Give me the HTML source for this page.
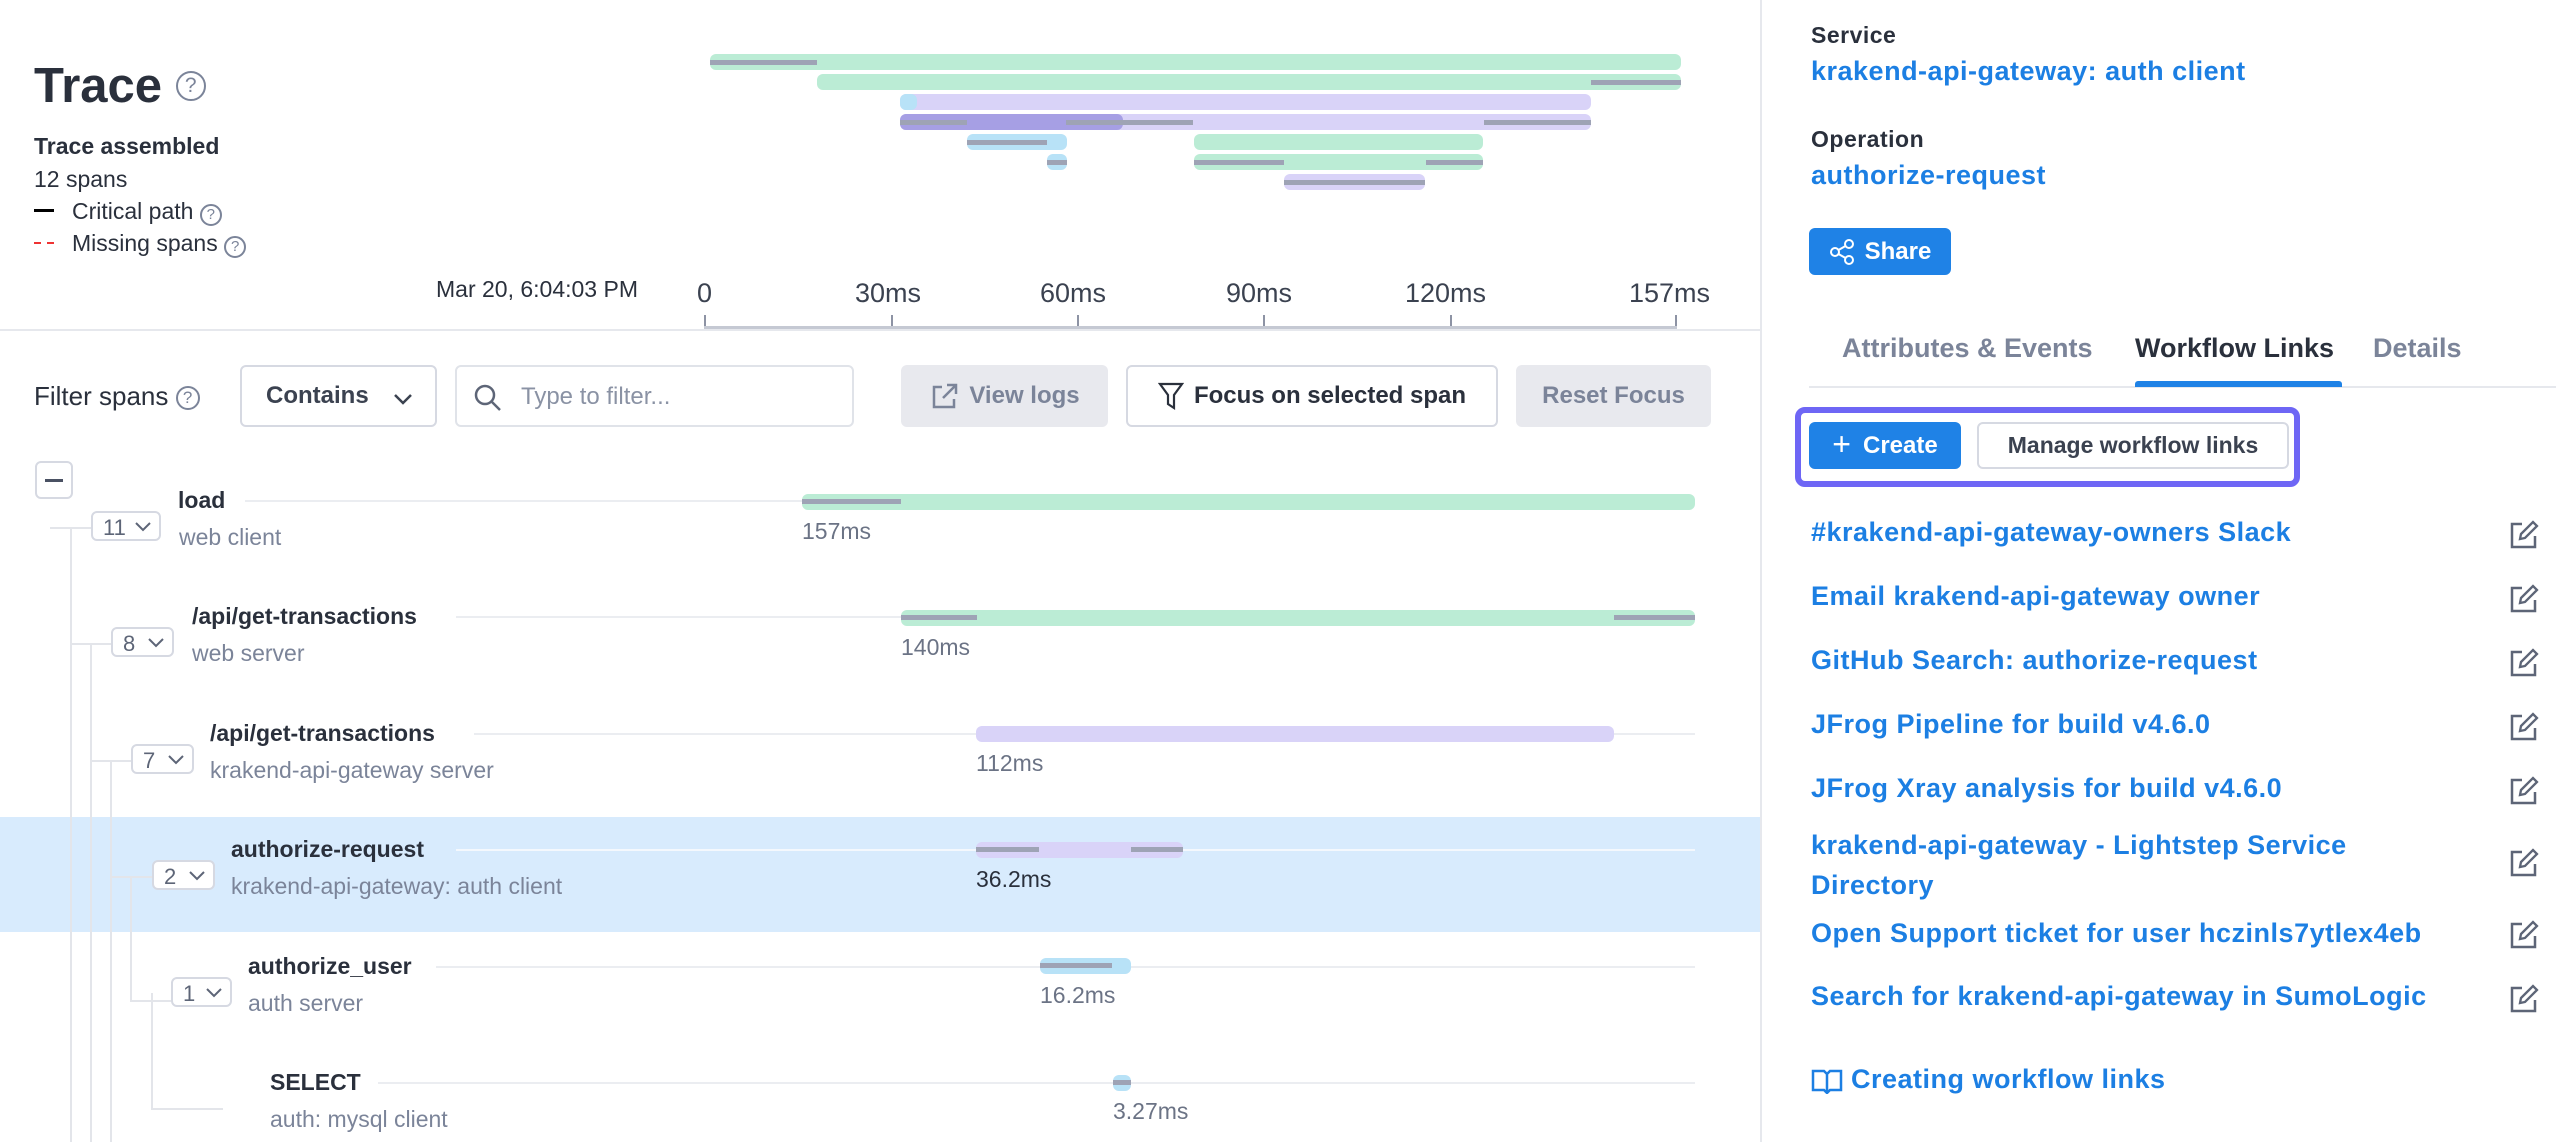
<!DOCTYPE html>
<html><head><meta charset="utf-8"><style>
*{margin:0;padding:0;box-sizing:border-box}
body{width:2556px;height:1142px;background:#fff;position:relative;overflow:hidden;font-family:"Liberation Sans",sans-serif;color:#2a303c}
.a{position:absolute;white-space:nowrap}
.bar{position:absolute;border-radius:6px}
.mk{position:absolute;height:5px;background:#9ea3b5}
.g{background:#bbecd5}.p{background:#d9d3f8}.b{background:#b8e2f7}.dp{background:#a69fe4}
.nm{font-size:23px;font-weight:bold;color:#2a303c}
.sv{font-size:23px;color:#7b8499}
.dur{font-size:23px;color:#6b7385}
.badge{position:absolute;height:30px;border:2px solid #d6d9e2;border-radius:6px;background:#fff;font-size:22px;color:#5d6577;padding:2px 0 0 10px}
.badge svg{position:absolute;right:8px;top:9px}
.trk{position:absolute;height:2px;background:#ebedf1}
.vl{position:absolute;width:2px;background:#e3e5ea}
.hl{position:absolute;height:2px;background:#e3e5ea}
.btn{position:absolute;border-radius:6px;font-size:24px;font-weight:bold;display:flex;align-items:center;justify-content:center}
.lnk{position:absolute;left:1811px;font-size:27px;font-weight:bold;color:#1c7fe3;letter-spacing:0.5px;white-space:nowrap}
.ed{position:absolute;left:2509px}
.tick{position:absolute;top:315px;width:2px;height:13px;background:#8d93a4}
.ax{position:absolute;top:278px;font-size:27px;color:#3b4250}
.q{display:inline-block;border:2px solid #7b8499;border-radius:50%;text-align:center;color:#7b8499;font-weight:normal}
</style></head><body>

<div class="a" style="left:34px;top:58px;font-size:49px;font-weight:bold;color:#2a303c">Trace <span class="q" style="width:30px;height:30px;font-size:21px;line-height:26px;vertical-align:10px">?</span></div>
<div class="a" style="left:34px;top:133px;font-size:23px;font-weight:bold">Trace assembled</div>
<div class="a" style="left:34px;top:166px;font-size:23px">12 spans</div>
<div class="a" style="left:34px;top:198px;font-size:23px"><span style="display:inline-block;width:20px;height:3px;background:#000;vertical-align:7px;margin-right:18px"></span>Critical path <span class="q" style="width:22px;height:22px;font-size:15px;line-height:18px">?</span></div>
<div class="a" style="left:34px;top:230px;font-size:23px"><span style="display:inline-block;width:7px;height:2px;background:#e33;vertical-align:7px;margin-right:6px"></span><span style="display:inline-block;width:7px;height:2px;background:#e33;vertical-align:7px;margin-right:18px"></span>Missing spans <span class="q" style="width:22px;height:22px;font-size:15px;line-height:18px">?</span></div>

<div class="bar g" style="left:710px;top:54px;width:971px;height:16px"></div><div class="mk" style="left:710px;top:60px;width:107px"></div>
<div class="bar g" style="left:817px;top:74px;width:864px;height:16px"></div><div class="mk" style="left:1591px;top:80px;width:90px"></div>
<div class="bar p" style="left:900px;top:94px;width:691px;height:16px"></div><div class="bar b" style="left:900px;top:94px;width:17px;height:16px"></div>
<div class="bar p" style="left:900px;top:114px;width:691px;height:16px"></div><div class="bar dp" style="left:900px;top:114px;width:223px;height:16px"></div>
<div class="mk" style="left:900px;top:120px;width:67px"></div><div class="mk" style="left:1066px;top:120px;width:127px"></div><div class="mk" style="left:1484px;top:120px;width:107px"></div>
<div class="bar b" style="left:967px;top:134px;width:100px;height:16px"></div><div class="mk" style="left:967px;top:140px;width:80px"></div>
<div class="bar g" style="left:1194px;top:134px;width:289px;height:16px"></div>
<div class="bar b" style="left:1047px;top:154px;width:20px;height:16px"></div><div class="mk" style="left:1047px;top:160px;width:20px"></div>
<div class="bar g" style="left:1194px;top:154px;width:289px;height:16px"></div><div class="mk" style="left:1194px;top:160px;width:90px"></div><div class="mk" style="left:1426px;top:160px;width:57px"></div>
<div class="bar p" style="left:1284px;top:174px;width:141px;height:16px"></div><div class="mk" style="left:1284px;top:180px;width:141px"></div>

<div class="a" style="left:436px;top:276px;font-size:23px;color:#2a303c">Mar 20, 6:04:03 PM</div>
<div class="ax" style="left:697px">0</div>
<div class="ax" style="left:855px">30ms</div>
<div class="ax" style="left:1040px">60ms</div>
<div class="ax" style="left:1226px">90ms</div>
<div class="ax" style="left:1405px">120ms</div>
<div class="ax" style="left:1629px">157ms</div>
<div class="tick" style="left:704px"></div><div class="tick" style="left:891px"></div><div class="tick" style="left:1077px"></div><div class="tick" style="left:1263px"></div><div class="tick" style="left:1450px"></div><div class="tick" style="left:1675px"></div>
<div class="a" style="left:704px;top:326px;width:973px;height:3px;background:#c5c9d3"></div>
<div class="a" style="left:0;top:329px;width:1760px;height:2px;background:#e6e8ed"></div>
<div class="a" style="left:1760px;top:0;width:2px;height:1142px;background:#e6e8ed"></div>

<div class="a" style="left:34px;top:381px;font-size:26px">Filter spans <span class="q" style="width:24px;height:24px;font-size:17px;line-height:20px;vertical-align:2px">?</span></div>
<div class="btn" style="left:240px;top:365px;width:197px;height:62px;border:2px solid #d6d9e2;color:#3b4250;justify-content:flex-start;padding-left:24px">Contains<svg style="position:absolute;right:22px;top:26px" width="20" height="12"><path d="M2 2l8 8 8-8" stroke="#3b4250" stroke-width="2.5" fill="none"/></svg></div>
<div class="a" style="left:455px;top:365px;width:399px;height:62px;border:2px solid #e0e3e9;border-radius:6px"><svg style="position:absolute;left:16px;top:16px" width="30" height="30"><circle cx="12" cy="12" r="9" stroke="#5d6577" stroke-width="2.5" fill="none"/><path d="M19 19l8 8" stroke="#5d6577" stroke-width="2.5"/></svg><span style="position:absolute;left:64px;top:16px;font-size:24px;color:#8a92a4">Type to filter...</span></div>
<div class="btn" style="left:901px;top:365px;width:207px;height:62px;background:#e8e9ee;color:#7b8499"><svg width="30" height="30" style="margin-right:10px"><path d="M13 6H5v20h20v-8M18 4h9v9M27 4L14 17" stroke="#7b8499" stroke-width="2.5" fill="none"/></svg>View logs</div>
<div class="btn" style="left:1126px;top:365px;width:372px;height:62px;border:2px solid #d6d9e2;color:#2a303c"><svg width="26" height="30" style="margin-right:10px"><path d="M2 3h22l-8 11v13l-6-4V14z" stroke="#2a303c" stroke-width="2.2" fill="none"/></svg>Focus on selected span</div>
<div class="btn" style="left:1516px;top:365px;width:195px;height:62px;background:#e8e9ee;color:#7b8499">Reset Focus</div>

<div class="a" style="left:0;top:817px;width:1760px;height:115px;background:#d8ebfd"></div>

<div class="btn" style="left:35px;top:461px;width:38px;height:38px;border:2px solid #d6d9e2"><span style="width:18px;height:3px;background:#4a5163;display:block"></span></div>
<div class="vl" style="left:70px;top:527px;height:615px"></div>
<div class="hl" style="left:50px;top:527px;width:41px"></div>
<div class="vl" style="left:90px;top:643px;height:499px"></div>
<div class="hl" style="left:70px;top:643px;width:41px"></div>
<div class="vl" style="left:110px;top:760px;height:382px"></div>
<div class="hl" style="left:90px;top:760px;width:41px"></div>
<div class="vl" style="left:130px;top:876px;height:124px"></div>
<div class="hl" style="left:110px;top:876px;width:42px"></div>
<div class="vl" style="left:151px;top:993px;height:116px"></div>
<div class="hl" style="left:130px;top:1000px;width:41px"></div>
<div class="hl" style="left:151px;top:1108px;width:72px"></div>

<div class="badge" style="left:91px;top:511px;width:70px">11<svg width="16" height="10"><path d="M1 1l7 7 7-7" stroke="#5d6577" stroke-width="2" fill="none"/></svg></div>
<div class="a nm" style="left:178px;top:487px">load</div><div class="trk" style="left:245px;top:500px;width:557px"></div>
<div class="a sv" style="left:179px;top:524px">web client</div>
<div class="bar g" style="left:802px;top:494px;width:893px;height:16px"></div><div class="mk" style="left:802px;top:499px;width:99px"></div>
<div class="a dur" style="left:802px;top:518px">157ms</div>

<div class="badge" style="left:111px;top:627px;width:63px">8<svg width="16" height="10"><path d="M1 1l7 7 7-7" stroke="#5d6577" stroke-width="2" fill="none"/></svg></div>
<div class="a nm" style="left:192px;top:603px">/api/get-transactions</div><div class="trk" style="left:456px;top:616px;width:1239px"></div>
<div class="a sv" style="left:192px;top:640px">web server</div>
<div class="bar g" style="left:901px;top:610px;width:794px;height:16px"></div><div class="mk" style="left:901px;top:615px;width:76px"></div><div class="mk" style="left:1614px;top:615px;width:81px"></div>
<div class="a dur" style="left:901px;top:634px">140ms</div>

<div class="badge" style="left:131px;top:744px;width:63px">7<svg width="16" height="10"><path d="M1 1l7 7 7-7" stroke="#5d6577" stroke-width="2" fill="none"/></svg></div>
<div class="a nm" style="left:210px;top:720px">/api/get-transactions</div><div class="trk" style="left:474px;top:733px;width:1221px"></div>
<div class="a sv" style="left:210px;top:757px">krakend-api-gateway server</div>
<div class="bar p" style="left:976px;top:726px;width:638px;height:16px"></div>
<div class="a dur" style="left:976px;top:750px">112ms</div>

<div class="badge" style="left:152px;top:860px;width:63px">2<svg width="16" height="10"><path d="M1 1l7 7 7-7" stroke="#5d6577" stroke-width="2" fill="none"/></svg></div>
<div class="a nm" style="left:231px;top:836px">authorize-request</div><div class="trk" style="left:456px;top:849px;width:1239px;background:#f4f8fd"></div>
<div class="a sv" style="left:231px;top:873px">krakend-api-gateway: auth client</div>
<div class="bar p" style="left:976px;top:842px;width:207px;height:16px"></div><div class="mk" style="left:976px;top:847px;width:63px"></div><div class="mk" style="left:1131px;top:847px;width:52px"></div>
<div class="a dur" style="left:976px;top:866px;color:#2a303c">36.2ms</div>

<div class="badge" style="left:171px;top:977px;width:61px">1<svg width="16" height="10"><path d="M1 1l7 7 7-7" stroke="#5d6577" stroke-width="2" fill="none"/></svg></div>
<div class="a nm" style="left:248px;top:953px">authorize_user</div><div class="trk" style="left:436px;top:966px;width:1259px"></div>
<div class="a sv" style="left:248px;top:990px">auth server</div>
<div class="bar b" style="left:1040px;top:958px;width:91px;height:16px"></div><div class="mk" style="left:1040px;top:963px;width:72px"></div>
<div class="a dur" style="left:1040px;top:982px">16.2ms</div>

<div class="a nm" style="left:270px;top:1069px">SELECT</div><div class="trk" style="left:378px;top:1082px;width:1317px"></div>
<div class="a sv" style="left:270px;top:1106px">auth: mysql client</div>
<div class="bar b" style="left:1113px;top:1075px;width:18px;height:16px"></div><div class="mk" style="left:1113px;top:1080px;width:18px"></div>
<div class="a dur" style="left:1113px;top:1098px">3.27ms</div>

<div class="a" style="left:1811px;top:22px;font-size:23px;font-weight:bold;color:#2a303c;letter-spacing:0.5px">Service</div>
<div class="lnk" style="top:56px">krakend-api-gateway: auth client</div>
<div class="a" style="left:1811px;top:126px;font-size:23px;font-weight:bold;color:#2a303c;letter-spacing:0.5px">Operation</div>
<div class="lnk" style="top:160px">authorize-request</div>
<div class="btn" style="left:1809px;top:228px;width:142px;height:47px;background:#1f82e6;color:#fff"><svg width="26" height="26" style="margin-right:10px"><circle cx="6" cy="13" r="4" stroke="#fff" stroke-width="2" fill="none"/><circle cx="20" cy="5" r="4" stroke="#fff" stroke-width="2" fill="none"/><circle cx="20" cy="21" r="4" stroke="#fff" stroke-width="2" fill="none"/><path d="M9.5 11l7-4M9.5 15l7 4" stroke="#fff" stroke-width="2"/></svg>Share</div>

<div class="a" style="left:1842px;top:333px;font-size:27px;font-weight:bold;color:#7b8499">Attributes &amp; Events</div>
<div class="a" style="left:2135px;top:333px;font-size:27px;font-weight:bold;color:#2a303c">Workflow Links</div>
<div class="a" style="left:2373px;top:333px;font-size:27px;font-weight:bold;color:#7b8499">Details</div>
<div class="a" style="left:1809px;top:386px;width:747px;height:2px;background:#e6e8ed"></div>
<div class="a" style="left:2135px;top:381px;width:207px;height:6px;background:#1f82e6;border-radius:3px 3px 0 0"></div>

<div class="a" style="left:1795px;top:407px;width:505px;height:80px;border:6px solid #6e66f5;border-radius:10px"></div>
<div class="btn" style="left:1809px;top:422px;width:152px;height:47px;background:#1f82e6;color:#fff"><span style="font-size:32px;font-weight:normal;margin-right:12px;margin-top:-3px">+</span>Create</div>
<div class="btn" style="left:1977px;top:422px;width:312px;height:47px;border:2px solid #d6d9e2;color:#3b4250;font-size:23px">Manage workflow links</div>

<div class="lnk" style="top:517px">#krakend-api-gateway-owners Slack</div>
<div class="lnk" style="top:581px">Email krakend-api-gateway owner</div>
<div class="lnk" style="top:645px">GitHub Search: authorize-request</div>
<div class="lnk" style="top:709px">JFrog Pipeline for build v4.6.0</div>
<div class="lnk" style="top:773px">JFrog Xray analysis for build v4.6.0</div>
<div class="lnk" style="top:825px;line-height:40px">krakend-api-gateway - Lightstep Service<br>Directory</div>
<div class="lnk" style="top:918px">Open Support ticket for user hczinls7ytlex4eb</div>
<div class="lnk" style="top:981px">Search for krakend-api-gateway in SumoLogic</div>

<svg class="ed" style="top:520px" width="30" height="30"><path d="M13 4H3v23h23V16" stroke="#5d6577" stroke-width="2.5" fill="none"/><path d="M11 19l1-5L24 2l4 4-12 12z" stroke="#5d6577" stroke-width="2.3" fill="none"/></svg>
<svg class="ed" style="top:584px" width="30" height="30"><path d="M13 4H3v23h23V16" stroke="#5d6577" stroke-width="2.5" fill="none"/><path d="M11 19l1-5L24 2l4 4-12 12z" stroke="#5d6577" stroke-width="2.3" fill="none"/></svg>
<svg class="ed" style="top:648px" width="30" height="30"><path d="M13 4H3v23h23V16" stroke="#5d6577" stroke-width="2.5" fill="none"/><path d="M11 19l1-5L24 2l4 4-12 12z" stroke="#5d6577" stroke-width="2.3" fill="none"/></svg>
<svg class="ed" style="top:712px" width="30" height="30"><path d="M13 4H3v23h23V16" stroke="#5d6577" stroke-width="2.5" fill="none"/><path d="M11 19l1-5L24 2l4 4-12 12z" stroke="#5d6577" stroke-width="2.3" fill="none"/></svg>
<svg class="ed" style="top:776px" width="30" height="30"><path d="M13 4H3v23h23V16" stroke="#5d6577" stroke-width="2.5" fill="none"/><path d="M11 19l1-5L24 2l4 4-12 12z" stroke="#5d6577" stroke-width="2.3" fill="none"/></svg>
<svg class="ed" style="top:848px" width="30" height="30"><path d="M13 4H3v23h23V16" stroke="#5d6577" stroke-width="2.5" fill="none"/><path d="M11 19l1-5L24 2l4 4-12 12z" stroke="#5d6577" stroke-width="2.3" fill="none"/></svg>
<svg class="ed" style="top:920px" width="30" height="30"><path d="M13 4H3v23h23V16" stroke="#5d6577" stroke-width="2.5" fill="none"/><path d="M11 19l1-5L24 2l4 4-12 12z" stroke="#5d6577" stroke-width="2.3" fill="none"/></svg>
<svg class="ed" style="top:984px" width="30" height="30"><path d="M13 4H3v23h23V16" stroke="#5d6577" stroke-width="2.5" fill="none"/><path d="M11 19l1-5L24 2l4 4-12 12z" stroke="#5d6577" stroke-width="2.3" fill="none"/></svg>

<svg class="a" style="left:1811px;top:1068px" width="32" height="26"><path d="M2 3h11l3 3 3-3h11v19H19l-3 3-3-3H2z M16 6v19" stroke="#1c7fe3" stroke-width="2.5" fill="none"/></svg>
<div class="lnk" style="left:1851px;top:1064px">Creating workflow links</div>
</body></html>
